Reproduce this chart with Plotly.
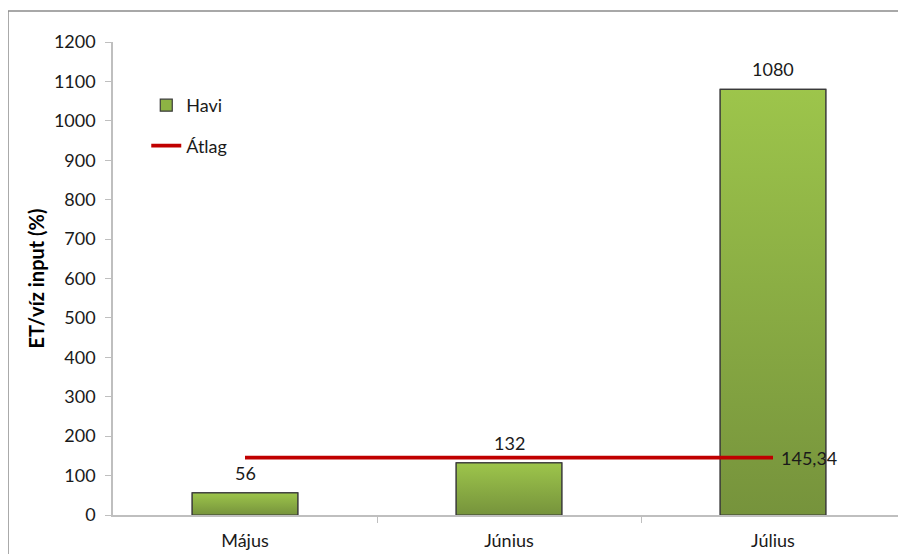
import plotly.graph_objects as go

months = ["Május", "Június", "Július"]
havi = [56, 132, 1080]
atlag = 145.34

FONT = "Lato, Carlito, Calibri, sans-serif"
BAR_W = 0.4
xs = list(range(len(months)))

fig = go.Figure()

# bars (legend)
fig.add_trace(go.Bar(
    x=xs, y=havi, width=BAR_W, name="Havi",
    marker=dict(color="#8DB344", line=dict(color="#3A3A3A", width=1.2)),
    legendgroup="a",
))

# gradient fill on top of each bar
for x, v in zip(xs, havi):
    fig.add_trace(go.Scatter(
        x=[x - BAR_W / 2, x + BAR_W / 2, x + BAR_W / 2, x - BAR_W / 2, x - BAR_W / 2],
        y=[0, 0, v, v, 0],
        mode="lines", fill="toself",
        fillgradient=dict(type="vertical",
                          colorscale=[[0, "#76933C"], [1, "#9DC54B"]]),
        line=dict(color="#3A3A3A", width=1.2),
        showlegend=False, hoverinfo="skip",
    ))
    fig.add_annotation(
        x=x, y=v, text=str(v), showarrow=False, yanchor="bottom", yshift=7,
        font=dict(family=FONT, size=18, color="#1a1a1a"),
    )

# average line
fig.add_trace(go.Scatter(
    x=[xs[0], xs[-1]], y=[atlag, atlag], mode="lines", name="Átlag",
    line=dict(color="#C00000", width=3.8), legendgroup="b",
))

fig.add_annotation(
    x=xs[-1], y=atlag, text=f"{atlag:.2f}".replace(".", ","),
    showarrow=False, xanchor="left", xshift=6,
    font=dict(family=FONT, size=18, color="#1a1a1a"),
)

# outer chart border (left and top only visible)
fig.add_shape(type="rect", xref="paper", yref="paper",
              x0=-0.1326, y0=-0.3, x1=1.3, y1=1.0655,
              line=dict(color="#8C8C8C", width=1.5), layer="below")

fig.update_layout(
    width=906, height=554,
    margin=dict(l=105, r=9, t=34, b=47),
    plot_bgcolor="white", paper_bgcolor="white",
    font=dict(family=FONT, size=18, color="#1a1a1a"),
    showlegend=True,
    legend=dict(x=0.042, y=0.905, xanchor="left", yanchor="top",
                traceorder="grouped", tracegroupgap=14,
                font=dict(family=FONT, size=18, color="#1a1a1a"),
                bgcolor="rgba(0,0,0,0)", itemwidth=30),
    bargap=0.6,
)

fig.update_xaxes(
    range=[-0.5, 2.5], tickmode="array", tickvals=xs, ticktext=months,
    ticks="", showgrid=False, zeroline=False, ticklabelstandoff=9,
    showline=True, linecolor="#BFBFBF", linewidth=1.5,
    tickfont=dict(family=FONT, size=18, color="#1a1a1a"),
    minor=dict(tickmode="array", tickvals=[0.5, 1.5, 2.5],
               ticks="outside", ticklen=6, tickcolor="#BFBFBF", tickwidth=1),
)
fig.update_yaxes(
    range=[0, 1200], dtick=100, ticks="outside", ticklen=6,
    tickcolor="#BFBFBF", showgrid=False, zeroline=False, ticklabelstandoff=6,
    showline=True, linecolor="#BFBFBF", linewidth=1.5,
    tickfont=dict(family=FONT, size=18, color="#1a1a1a"),
    title=dict(text="<b>ET/víz input (%)</b>",
               font=dict(family=FONT, size=20, color="#000"), standoff=4),
)

fig.write_html("out.html")
